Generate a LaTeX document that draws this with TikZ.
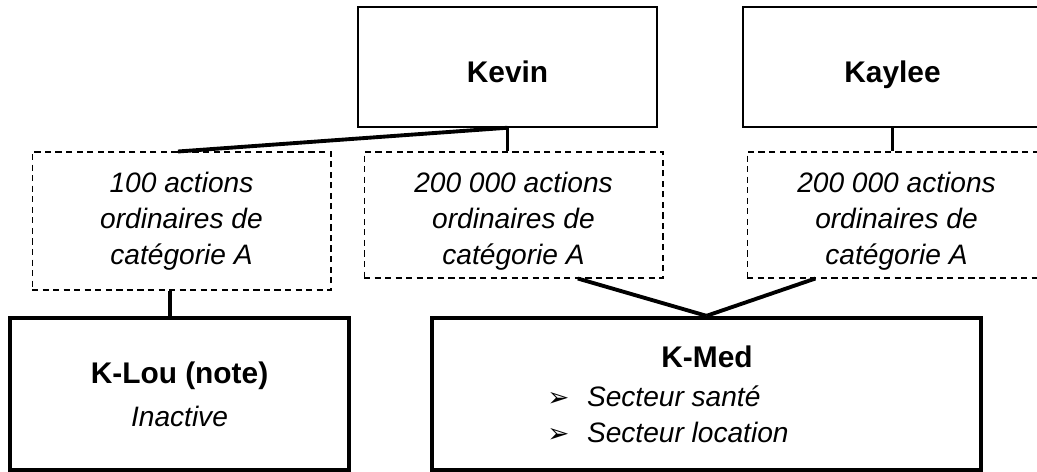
\documentclass[tikz,border=0pt]{standalone}
\usepackage{fontspec}
\setmainfont{Liberation Sans}
\newfontfamily\symfont{DejaVu Sans}
\usetikzlibrary{calc}

\newcommand{\namefont}{\fontsize{17}{20}\selectfont\upshape\bfseries}
\newcommand{\descfont}{\fontsize{16}{20.4}\selectfont\itshape}
\newcommand{\toppad}{\rule{0pt}{19pt}}
\newcommand{\arrowbullet}{{\symfont\upshape\fontsize{15}{20}\selectfont ➢}}

\tikzset{
  owner/.style={draw, line width=0.85pt, minimum width=5.98cm, minimum height=2.4cm, text height=20pt, text depth=2pt, font=\namefont},
  shares/.style={draw, dash pattern=on 3.5pt off 2.5pt, line width=0.6pt, minimum width=5.98cm, align=center, font=\descfont},
  company/.style={draw, line width=2.5pt, minimum height=3.04cm},
  link/.style={line width=2.2pt},
}

\begin{document}
\begin{tikzpicture}[x=0.02cm, y=-0.02cm]
            \useasboundingbox (0,0) rectangle (1037,471);
            \clip (0,0) rectangle (1037,471);

            % Owners
            \node[owner] (kevin) at (507.5,67) {Kevin};
            \node[owner] (kaylee) at (892.5,67) {Kaylee};

            % Shares held
            \node[shares, minimum height=2.76cm] (actA) at (181.5,221) {100 actions\\ordinaires de\\catégorie A};
            \node[shares, minimum height=2.52cm] (actB) at (513.5,215) {\toppad200 000 actions\\ordinaires de\\catégorie A};
            \node[shares, minimum height=2.52cm] (actC) at (896.5,215) {\toppad200 000 actions\\ordinaires de\\catégorie A};

            % Companies
            \node[company, minimum width=6.78cm, align=center, font=\descfont] (klou) at (179.5,394) {{\namefont K-Lou (note)}\\[4pt]Inactive};
            \node[company, minimum width=10.98cm] (kmed) at (706.5,394) {};
            \node[font=\namefont] (kmedname) at (707,357) {K-Med};
            \node[anchor=west, font=\descfont, inner sep=0pt] (kmedlist) at (547,417) {\begin{tabular}{@{}l@{\hspace{10pt}}l@{}}
              \arrowbullet & Secteur santé\\
              \arrowbullet & Secteur location
            \end{tabular}};

            % Links
            \draw[link] (kevin.south) -- ([xshift=-2pt]actA.north);
            \draw[link] (kevin.south) -- (kevin.south |- actB.north);
            \draw[link] (kaylee.south) -- (kaylee.south |- actC.north);
            \draw[link] ([xshift=-6.5pt]actA.south) -- ([xshift=-6.5pt]actA.south |- klou.north);
            \draw[link] ([xshift=36.6pt]actB.south) -- (kmed.north);
            \draw[link] ([xshift=-46.2pt]actC.south) -- (kmed.north);
        \end{tikzpicture}
\end{document}
